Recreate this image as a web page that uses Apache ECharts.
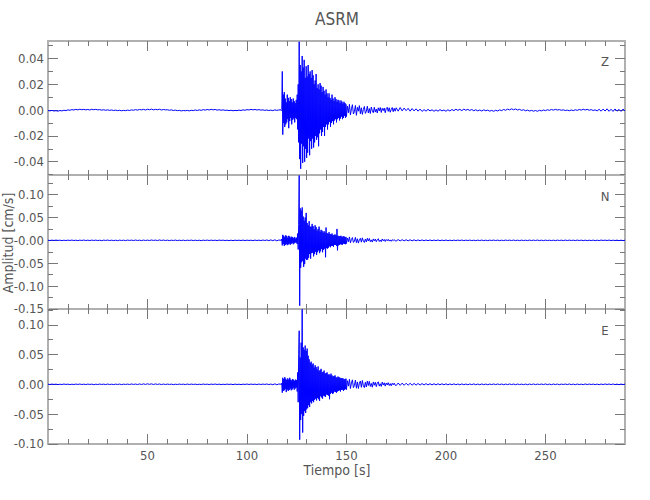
<!DOCTYPE html>
<html><head><meta charset="utf-8">
<script src="https://cdn.jsdelivr.net/npm/echarts@6/dist/echarts.min.js"></script>
<style>html,body{margin:0;padding:0;background:#fff}#c{width:650px;height:500px}</style>
</head><body><div id="c"></div>
<script>
// amplitudes are stored in units of 1e-4 cm/s
const UNIT = 1e-4;
// sample grids (s): pre 0..116 step 1, main 117..149.75 step 0.25, coda 150..174.5 step 0.5, post 175..290 step 1
const segStart = [0, 117, 150, 175];
const segStep  = [1, 0.25, 0.5, 1];

const zPre = [-3,-6,-2,-7,-4,-8,-3,-6,-1,-4, 2,-1,4,1,6,2,7,3,6,2, 5,1,7,3,6,2,4,0,3,-1, 2,-2,1,-3,0,-4,-1,-5,-2,-4,
 0,-3,2,-1,4,0,5,2,6,1, 7,3,8,2,6,3,7,1,5,2, 3,-1,2,-3,0,-4,-2,-6,-3,-5, -2,-6,-1,-4,1,-3,2,-2,4,0,
 5,1,6,2,5,0,3,-1,2,-2, 0,-4,-1,-5,-2,-4,0,-3,2,-1, 4,1,6,2,5,1,4,0,2,-2, 1,-3,0,-4,2,-2,1];
const zMain = [3,-4,5,300,-190,120,-100,140,-130,90, -110,60,-95,120,-70,95,-140,70,-85,100,
 -60,85,-110,60,-75,90,-65,70,-95,55, -60,80,-70,120,-150,200,-250,530,-380,350,
 -455,300,-260,420,-410,330,-280,390,-400,250, -300,340,-370,260,-330,350,-220,280,-350,300,
 -240,250,-300,310,-220,270,-290,200,-250,230, -200,280,-230,170,-210,200,-280,160,-180,210,
 -150,190,-200,140,-170,180,-130,150,-200,120, -130,160,-110,130,-150,100,-110,130,-90,95,
 -130,80,-100,120,-85,90,-110,70,-80,100, -70,85,-95,65,-70,80,-60,75,-80,55,
 -65,75,-50,65,-70,50,-60,65,-45,55, -60,45];
const zCoda = [-50,30,-20,45,-38,10,42,-30,-12,36, -40,22,-8,35,-28,18,-33,5,28,-25,
 -10,30,-22,12,-26,24,-5,-20,22,-15, 8,-22,18,-6,20,-18,14,-4,16,-20, 12,22,-10,18,-16,4,20,-12,14,-8];
const zPost = [18,-8,20,-6,16,-4,14,-8,12,-6, 10,-8,8,-10,4,-8,6,-6,3,-9, 2,-8,4,-6,1,-9,3,-7,5,-4,
 7,-2,6,-4,8,-1,6,-3,5,-5, 3,-6,1,-7,2,-5,0,-8,-2,-9, -1,-7,2,-4,5,-1,8,2,10,3,
 9,1,6,-2,3,-5,0,-7,-2,-8, -3,-9,-1,-6,1,-4,3,-2,5,0, 6,1,4,-1,2,-3,0,-5,1,-4,
 3,-2,5,0,7,1,6,-1,4,-3, 2,-6,6,-8,8,-7,10,-9,7,-10, 9,-8,6,-10,8,-6];

const nPre = [3,-4,5,-3,6,-2,4,-5,3,-4, 5,-3,6,-4,4,-6,5,-3,7,-4, 4,-5,6,-3,5,-4,3,-6,5,-2, 6,-4,4,-5,3,-6,5,-3,4,-5,
 6,-2,5,-4,7,-3,4,-5,6,-3, 5,-4,8,-2,6,-5,9,-3,7,-4, 5,-6,4,-3,6,-5,3,-4,5,-6, 4,-3,6,-5,4,-4,3,-6,5,-3,
 6,-4,5,-3,4,-5,6,-2,5,-4, 3,-5,4,-6,5,-3,4,-4,6,-5, 5,-3,4,-6,6,-4,5,-5,7,-3, 8,-6,10,-8,12,-9,6];
const nMain = [5,-8,30,-110,120,-80,100,-120,70,-100, 110,-80,95,-105,60,-90,100,-70,85,-95,
 60,-75,80,-55,70,-85,50,-65,75,-50, 40,-55,60,-80,150,-200,350,1420,-1430,700,
 -600,650,-480,720,-450,520,-580,430,-520,500, -400,600,-430,380,-420,330,-380,420,-300,300,
 -400,300,-280,360,-270,310,-350,240,-300,330, -250,290,-320,210,-260,250,-220,300,-280,190,
 -240,230,-190,210,-260,170,-210,200,-180,170, -370,280,-170,160,-180,140,-160,180,-130,140,
 -150,130,-120,150,-120,110,-140,120,-100,130, -100,110,-120,250,-220,100,-110,90,-95,95,
 -85,100,-90,75,-95,85,-70,90,-80,70, -85,75];
const nCoda = [-70,50,-30,75,-55,20,60,-45,-15,65, -50,35,-60,15,45,-40,55,-20,-45,30,
 -35,45,-15,40,-30,10,-38,32,-12,28, -30,15,35,-25,8,-28,30,-10,20,-24, 18,-8,22,-16,10,-20,14,-6,16,-12];
const nPost = [-14,16,-12,14,-10,13,-11,12,-9,11, -10,9,-8,10,-9,8,-7,9,-8,7, -6,8,-7,6,-5,7,-6,5,-7,6,
 -5,6,-4,7,-6,5,-4,6,-5,4, -6,5,-4,6,-5,4,-6,5,-3,6, -4,5,-6,4,-5,6,-3,5,-4,6,
 -5,4,-6,5,-4,3,-5,6,-4,5, -3,6,-5,4,-6,5,-4,3,-5,4, -6,5,-3,4,-5,6,-4,5,-3,4,
 -5,6,-4,5,-6,4,-5,3,-4,5, -6,4,-5,6,-3,5,-4,6,-5,4, -4,5,-6,4,-5,3];

const ePre = [2,-3,4,-2,3,-4,2,-3,5,-2, 3,-4,2,-3,4,-2,5,-3,3,-4, 4,-2,3,-5,2,-3,4,-2,3,-4, 5,-3,2,-4,3,-2,4,-5,3,-2,
 4,-3,6,-2,5,-4,7,-3,8,-2, 9,-1,8,-3,7,-2,6,-4,5,-3, 4,-2,3,-5,2,-3,4,-2,3,-4, 5,-3,4,-2,3,-4,2,-3,5,-2,
 3,-4,4,-2,5,-3,3,-4,2,-3, 4,-2,3,-5,4,-3,2,-4,3,-2, 5,-3,4,-2,3,-4,5,-3,4,-2, 6,-4,5,-7,8,-6,5];
const eMain = [4,-6,20,-140,110,-110,90,-100,120,-80, 95,-130,75,-90,100,-110,80,-95,110,-70,
 80,-100,65,-85,90,-60,75,-90,60,-70, 80,-55,70,-120,200,-300,500,900,-930,450,
 -600,700,-500,1260,-810,620,-530,580,-450,650, -480,560,-420,600,-400,480,-350,420,-380,360,
 -300,380,-320,330,-280,350,-300,280,-260,320, -240,290,-270,250,-230,300,-250,220,-280,240,
 -200,260,-220,200,-240,210,-190,230,-200,180, -210,190,-170,200,-180,160,-190,170,-250,150,
 -160,180,-140,150,-160,130,-150,140,-120,150, -130,120,-140,110,-120,130,-110,120,-100,110,
 -120,100,-95,105,-90,100,-110,85,-95,90, -80,95];
const eCoda = [-90,60,-30,85,-70,25,75,-55,-20,70, -65,40,-70,20,55,-50,65,-25,-55,35,
 -45,55,-20,50,-35,15,-48,40,-15,35, -38,20,42,-30,10,-35,38,-12,25,-30, 22,-10,28,-20,12,-24,18,-8,20,-15];
const ePost = [-20,22,-18,20,-16,18,-15,17,-14,15, -13,14,-12,13,-11,12,-10,11,-9,10, -9,10,-8,9,-7,8,-8,7,-6,8,
 -7,6,-8,7,-6,5,-7,6,-5,7, -6,5,-7,6,-5,4,-6,5,-4,6, -5,6,-4,5,-6,4,-5,6,-4,5,
 -6,5,-4,3,-5,4,-6,5,-4,6, -5,4,-3,5,-4,6,-5,4,-6,5, -4,5,-6,4,-3,5,-4,6,-5,4,
 -6,5,-4,3,-5,6,-4,5,-3,4, -5,4,-6,5,-4,6,-3,5,-4,6, -5,4,-6,5,-4,3];

// axes
const xRange = [0, 290];
const xTicks = [50, 100, 150, 200, 250];
const xTickLabels = ['50', '100', '150', '200', '250'];
const xMinor = [10,20,30,40,60,70,80,90,110,120,130,140,160,170,180,190,210,220,230,240,260,270,280];

const channels = ['Z', 'N', 'E'];
const zRange = [-0.0503, 0.0536];
const zTicks = [-0.04, -0.02, 0, 0.02, 0.04];
const zTickLabels = ['-0.04', '-0.02', '0.00', '0.02', '0.04'];
const zMinor = [-0.05, -0.03, -0.01, 0.01, 0.03, 0.05];
const nRange = [-0.1502, 0.143];
const nTicks = [-0.15, -0.10, -0.05, 0, 0.05, 0.10];
const nTickLabels = ['-0.15', '-0.10', '-0.05', '-0.00', '0.05', '0.10'];
const nMinor = [-0.125, -0.075, -0.025, 0.025, 0.075, 0.125];
const eRange = [-0.1002, 0.1265];
const eTicks = [-0.10, -0.05, 0, 0.05, 0.10];
const eTickLabels = ['-0.10', '-0.05', '0.00', '0.05', '0.10'];
const eMinor = [-0.075, -0.025, 0.025, 0.075, 0.125];

const titleText = 'ASRM';
const xName = 'Tiempo [s]';
const yName = 'Amplitud [cm/s]';

function buildTrace(segs) {
  const out = [];
  segs.forEach((vals, k) => vals.forEach((v, i) => out.push([segStart[k] + segStep[k] * i, v * UNIT])));
  return out;
}
const traces = [buildTrace([zPre, zMain, zCoda, zPost]), buildTrace([nPre, nMain, nCoda, nPost]), buildTrace([ePre, eMain, eCoda, ePost])];
const yRanges = [zRange, nRange, eRange];
const yTicks = [zTicks, nTicks, eTicks];
const yTickLabels = [zTickLabels, nTickLabels, eTickLabels];
const yMinors = [zMinor, nMinor, eMinor];

const FONT_FAMILY = '"Liberation Sans Narrow","DejaVu Sans Condensed","Arial Narrow",sans-serif';
const TXT = '#555555';
const FRAME = '#b0b0b0';
const TICK = '#777777';

const grids = [
  {left: 48, right: 25, top: 41, height: 134},
  {left: 48, right: 25, top: 175, height: 134},
  {left: 48, right: 25, top: 309, height: 135}
];

function lookupLabel(ticks, labels) {
  return v => { for (let i = 0; i < ticks.length; i++) if (Math.abs(ticks[i] - v) < 1e-9) return labels[i]; return ''; };
}

const xAxes = [], yAxes = [];
for (let g = 0; g < 3; g++) {
  ['bottom', 'top'].forEach(pos => {
    [true, false].forEach(major => {
      xAxes.push({
        type: 'value', gridIndex: g, position: pos, min: xRange[0], max: xRange[1],
        axisLine: {show: major, onZero: false, lineStyle: {color: FRAME, width: 2}},
        axisTick: {show: true, inside: true, length: major ? 10 : 5, customValues: major ? xTicks : xMinor, lineStyle: {color: TICK, width: 1}},
        axisLabel: (major && pos === 'bottom' && g === 2) ? {show: true, customValues: xTicks, formatter: lookupLabel(xTicks, xTickLabels), color: TXT, fontSize: 13, fontFamily: FONT_FAMILY, margin: 5, showMinLabel: true, showMaxLabel: true} : {show: false},
        splitLine: {show: false}, minorTick: {show: false}
      });
    });
  });
  ['left', 'right'].forEach(pos => {
    [true, false].forEach(major => {
      yAxes.push({
        type: 'value', gridIndex: g, position: pos, min: yRanges[g][0], max: yRanges[g][1],
        axisLine: {show: major, onZero: false, lineStyle: {color: FRAME, width: 2}},
        axisTick: {show: true, inside: true, length: major ? 10 : 5, customValues: major ? yTicks[g] : yMinors[g], lineStyle: {color: TICK, width: 1}},
        axisLabel: (major && pos === 'left') ? {show: true, customValues: yTicks[g], formatter: lookupLabel(yTicks[g], yTickLabels[g]), color: TXT, fontSize: 13, fontFamily: FONT_FAMILY, margin: 4, showMinLabel: true, showMaxLabel: true} : {show: false},
        splitLine: {show: false}, minorTick: {show: false}
      });
    });
  });
}

const series = traces.map((d, g) => ({
  type: 'line', name: channels[g], xAxisIndex: g * 4, yAxisIndex: g * 4, data: d,
  symbol: 'none', showSymbol: false, silent: true, animation: false, clip: true,
  lineStyle: {color: '#0000ff', width: 1}, z: 3
}));

function txt(x, y, text, size, rot) {
  return {type: 'text', x: x, y: y, rotation: rot || 0, silent: true,
    style: {text: text, fill: TXT, font: size + 'px ' + FONT_FAMILY, textAlign: 'center', textVerticalAlign: 'middle', align: 'center', verticalAlign: 'middle'}};
}
const graphics = [
  txt(337, 19, titleText, 17),
  txt(337, 470, xName, 14),
  txt(8, 243, yName, 14, Math.PI / 2),
  txt(605, 61, channels[0], 13),
  txt(605, 196, channels[1], 13),
  txt(605, 330, channels[2], 13)
];

const chart = echarts.init(document.getElementById('c'), null, {renderer: 'svg', width: 650, height: 500});
chart.setOption({
  animation: false,
  backgroundColor: '#ffffff',
  grid: grids,
  xAxis: xAxes,
  yAxis: yAxes,
  series: series,
  graphic: graphics
});
</script>
</body></html>
